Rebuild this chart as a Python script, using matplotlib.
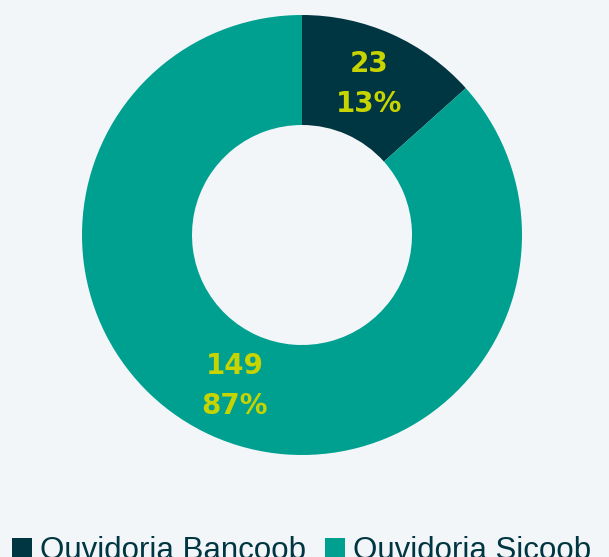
import numpy as np
import matplotlib.pyplot as plt

categorias = ['Ouvidoria Bancoob', 'Ouvidoria Sicoob']
valores = [23, 149]
cores = ['#003641', '#00a091']

fig = plt.figure(figsize=(6.09, 5.57), dpi=100)
fig.patch.set_facecolor('#f3f6f9')

# eixo posicionado para o centro (302, 235) e raio 220 px
ax = fig.add_axes([(302 - 220) / 609, (557 - 455) / 557, 440 / 609, 440 / 557])
ax.set_facecolor('#f3f6f9')

total = sum(valores)
wedges, _ = ax.pie(valores, colors=cores, startangle=90, counterclock=False,
                   radius=1, wedgeprops=dict(width=0.5, edgecolor='none'))

for w, v in zip(wedges, valores):
    ang = np.deg2rad((w.theta1 + w.theta2) / 2)
    x, y = 0.75 * np.cos(ang), 0.75 * np.sin(ang)
    ax.text(x, y, f'{v}\n{round(v / total * 100)}%', ha='center', va='center',
            color='#c8d400', fontsize=20, fontweight='bold', linespacing=1.55,
            family='DejaVu Sans')

ax.set_xlim(-1, 1)
ax.set_ylim(-1, 1)
ax.set_aspect('equal')
ax.axis('off')

fig.legend(wedges, categorias, loc='upper center', bbox_to_anchor=(0.495, 0.06),
           ncol=2, frameon=False, prop={'family': 'Liberation Sans', 'size': 22.5},
           labelcolor='#003641', handlelength=0.65, handleheight=0.65,
           handletextpad=0.25, columnspacing=0.6, borderaxespad=0)

fig.savefig('out.png', dpi=100, facecolor=fig.get_facecolor())
